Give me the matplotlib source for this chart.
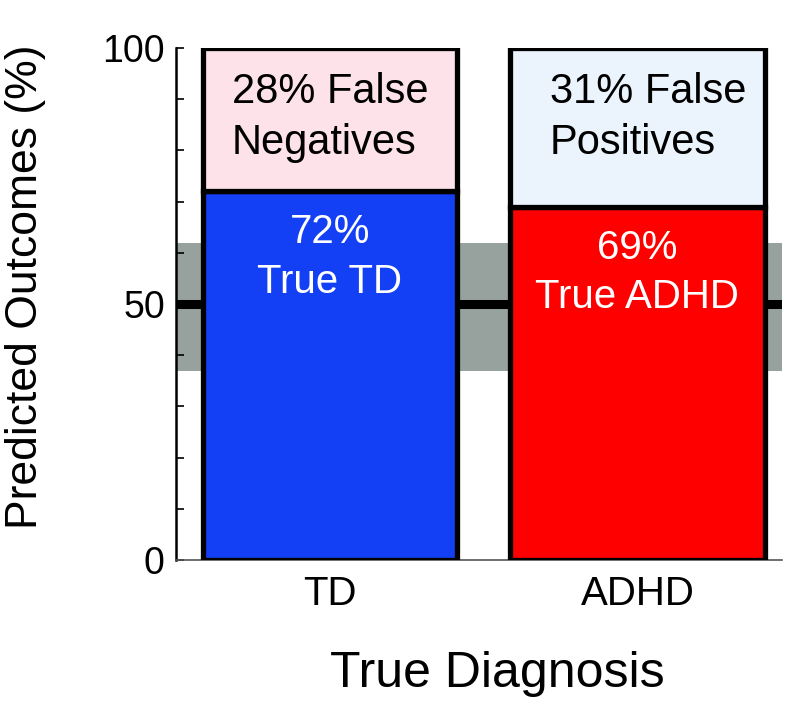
import numpy as np
import matplotlib
matplotlib.use("Agg")
import matplotlib.pyplot as plt
from matplotlib.ticker import MultipleLocator

plt.rcParams['font.family'] = ['Liberation Sans', 'DejaVu Sans']

# data
categories = ['TD', 'ADHD']
true_pct = [72, 69]
false_pct = [28, 31]
true_labels = ['72%\nTrue TD', '69%\nTrue ADHD']
false_labels = ['28% False\nNegatives', '31% False\nPositives']
chance_band = (37, 62)
chance_line = 50

true_colors = ['#1340F5', '#FF0000']
false_colors = ['#FDE2EA', '#EBF3FC']

fig = plt.figure(figsize=(7.97, 7.09), dpi=100)
ax = fig.add_axes([0.2208, 0.2102, 0.7604, 0.7221])

x = np.arange(len(categories))
width = 0.827

ax.axhspan(chance_band[0], chance_band[1], color='#97A29F', zorder=1, lw=0)
ax.axhline(chance_line, color='black', lw=6.5, zorder=2)

ax.bar(x, true_pct, width=width, color=true_colors, edgecolor='black',
       linewidth=3.8, zorder=3)
ax.bar(x, false_pct, width=width, bottom=true_pct, color=false_colors,
       edgecolor='black', linewidth=3.8, zorder=3)

x_off = [0.0, 0.035]
for i in range(len(categories)):
    top = true_pct[i] + false_pct[i]
    ax.text(x[i] + x_off[i], top - 4.6, false_labels[i],
            ha='center', va='top', multialignment='left', fontsize=30,
            color='black', zorder=4, linespacing=1.36)
    ax.text(x[i], true_pct[i] - 4.3, true_labels[i], ha='center', va='top',
            multialignment='center', fontsize=29, color='white', zorder=4,
            linespacing=1.38)

ax.set_xlim(-0.5, 1.47)
ax.set_ylim(0, 100)

ax.set_xticks(x, labels=categories)
ax.tick_params(axis='x', length=0, pad=11, labelsize=29)
ax.yaxis.set_major_locator(MultipleLocator(50))
ax.yaxis.set_minor_locator(MultipleLocator(10))
ax.tick_params(axis='y', which='both', direction='in', length=6, width=1.2,
               labelsize=27, pad=8)

ax.spines['top'].set_visible(False)
ax.spines['right'].set_visible(False)
ax.spines['left'].set_linewidth(1.8)
ax.spines['bottom'].set_linewidth(1.2)
ax.spines['bottom'].set_color('#555555')

ax.set_ylabel('Predicted Outcomes (%)', fontsize=32)
ax.set_xlabel('True Diagnosis', fontsize=36)
ax.yaxis.set_label_coords(-0.2145, 0.533)
ax.xaxis.set_label_coords(0.53, -0.178)

fig.savefig('out.png', dpi=100)
